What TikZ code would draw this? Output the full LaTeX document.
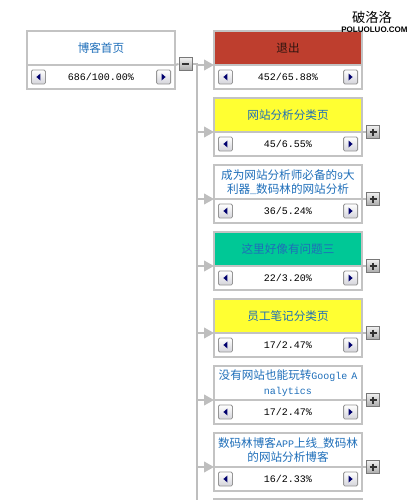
\documentclass[tikz,border=0pt]{standalone}
\usepackage{fontspec}
\usepackage{tikz}
\usetikzlibrary{arrows.meta,positioning,calc}
\newfontfamily\cjk{Noto Sans CJK SC}
\newfontfamily\monofnt{Liberation Mono}
\newfontfamily\markfnt{Liberation Sans}
\newcommand\latn[1]{{\monofnt\fontsize{7.5pt}{9pt}\selectfont #1}}
\definecolor{wiregray}{RGB}{190,190,190}
\definecolor{boxgray}{RGB}{195,195,195}
\definecolor{titleblue}{RGB}{30,110,185}
\definecolor{exitred}{RGB}{190,62,46}
\definecolor{exitink}{RGB}{45,20,15}
\definecolor{pageyellow}{RGB}{255,255,50}
\definecolor{pageteal}{RGB}{0,200,150}
\definecolor{btngray}{RGB}{150,150,150}
\definecolor{btnshade}{RGB}{212,212,218}
\definecolor{btnnavy}{RGB}{0,0,110}
\definecolor{foldedge}{RGB}{120,120,120}
\definecolor{foldtop}{RGB}{240,240,240}
\definecolor{foldbottom}{RGB}{170,170,170}
\definecolor{foldink}{RGB}{50,50,50}

\begin{document}
\begin{tikzpicture}[x=0.75pt,y=-0.75pt,
	wire/.style={draw=wiregray,line width=1.5pt},
	feed/.style={wire,-{Triangle[length=7.5pt,width=8pt]}},
	titlebox/.style={draw=boxgray,line width=1.5pt,minimum width=111pt,minimum height=25.5pt,text width=109pt,inner sep=0pt,outer sep=0pt,align=center,anchor=north,font=\cjk\fontsize{8.7pt}{10.8pt}\selectfont,text=titleblue},
	countbox/.style={draw=boxgray,line width=1.5pt,fill=white,minimum width=111pt,minimum height=18pt,inner sep=0pt,outer sep=0pt,anchor=north,font=\monofnt\fontsize{7.5pt}{9pt}\selectfont},
	navbtn/.style={draw=btngray,line width=0.6pt,rounded corners=1pt,top color=white,bottom color=btnshade,minimum size=10.5pt,inner sep=0pt},
	foldbtn/.style={draw=foldedge,line width=0.75pt,top color=foldtop,bottom color=foldbottom,minimum size=9.75pt,inner sep=0pt}]
	\useasboundingbox (0,0) rectangle (420,500);
	% Root page:
	\node[titlebox] (root) at (101,31) {博客首页};
	\node[countbox] (root-cnt) at (root.south) {686/100.00\%};
	% Next pages:
	\node[titlebox,fill=exitred,text=exitink] (exit) at (288,31) {退出};
	\node[countbox] (exit-cnt) at (exit.south) {452/65.88\%};
	\node[titlebox,fill=pageyellow] (sitecat) at (288,98) {网站分析分类页};
	\node[countbox] (sitecat-cnt) at (sitecat.south) {45/6.55\%};
	\node[titlebox] (ninetools) at (288,165) {成为网站分析师必备的\latn{9}大\\利器\latn{\_}数码林的网站分析};
	\node[countbox] (ninetools-cnt) at (ninetools.south) {36/5.24\%};
	\node[titlebox,fill=pageteal] (issue) at (288,232) {这里好像有问题三};
	\node[countbox] (issue-cnt) at (issue.south) {22/3.20\%};
	\node[titlebox,fill=pageyellow] (notes) at (288,299) {员工笔记分类页};
	\node[countbox] (notes-cnt) at (notes.south) {17/2.47\%};
	\node[titlebox] (nosite) at (288,366) {没有网站也能玩转\latn{Google A}\\\latn{nalytics}};
	\node[countbox] (nosite-cnt) at (nosite.south) {17/2.47\%};
	\node[titlebox] (appnews) at (288,433) {数码林博客\latn{APP}上线\latn{\_}数码林\\的网站分析博客};
	\node[countbox] (appnews-cnt) at (appnews.south) {16/2.33\%};
	\node[titlebox] (nextpage) at (288,499) {};
	% Scroll buttons:
	\foreach \b in {root,exit,sitecat,ninetools,issue,notes,nosite,appnews} {
		\node[navbtn,right=3pt of \b-cnt.west] (\b-prev) {};
		\node[navbtn,left=3pt of \b-cnt.east] (\b-next) {};
		\fill[btnnavy] ($(\b-prev.center)+(-2,0)$) -- ++(4,-3.5) -- ++(0,7) -- cycle;
		\fill[btnnavy] ($(\b-next.center)+(2,0)$) -- ++(-4,-3.5) -- ++(0,7) -- cycle;
	}
	% Tree wires:
	\node[foldbtn] (fold) at (185.5,64) {};
	\draw[foldink,line width=1.2pt] (fold.center) +(-3.5,0) -- +(3.5,0);
	\coordinate (trunk) at (197,64);
	\coordinate (trunkend) at (197,505);
	\draw[wire] (root.south east) -- (fold.west);
	\draw[wire] (fold.east) -- (trunk) -- (trunkend);
	\foreach \b in {exit,sitecat,ninetools,issue,notes,nosite,appnews}
		\draw[feed] (trunk |- \b.south west) -- (\b.south west);
	\foreach \b in {sitecat,ninetools,issue,notes,nosite,appnews} {
		\node[foldbtn,right=3pt of \b.south east] (\b-fold) {};
		\draw[wire] (\b.south east) -- (\b-fold.west);
		\draw[foldink,line width=1.2pt] (\b-fold.center) +(-3.5,0) -- +(3.5,0) +(0,-3.5) -- +(0,3.5);
	}
	% Watermark:
	\node[font=\cjk\fontsize{10pt}{11pt}\selectfont,inner sep=0pt] (mark) at (372,17) {破洛洛};
	\node[font=\markfnt\bfseries\fontsize{6pt}{7pt}\selectfont,inner sep=0pt] (markurl) at (374.5,29.5) {POLUOLUO.COM};
\end{tikzpicture}
\end{document}
